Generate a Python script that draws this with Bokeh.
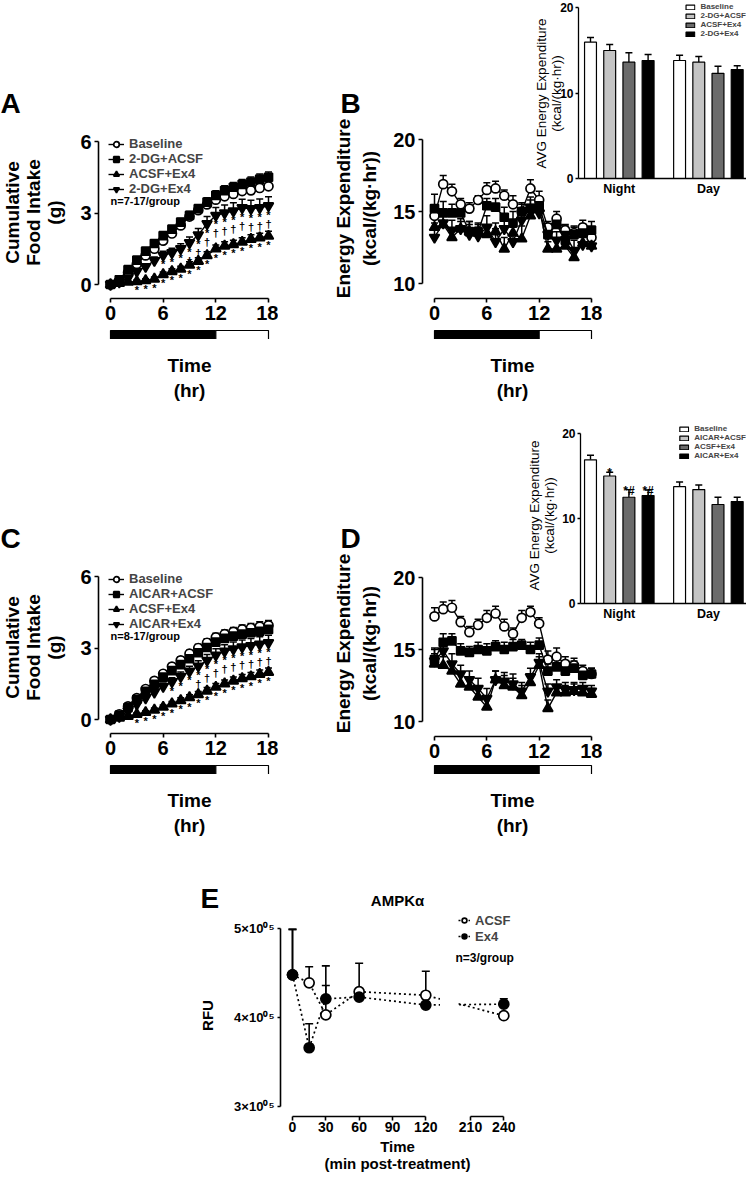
import math
from bokeh.plotting import figure
from bokeh.models import (ColumnDataSource, Whisker, TeeHead, Legend, LegendItem,
                          FixedTicker, Range1d, GridBox)
from bokeh.core.properties import value
from bokeh.embed import file_html
from bokeh.resources import INLINE

FONT = "Liberation Sans"

# ---------------- data ----------------
hours = list(range(19))
hour_ticks = [0, 6, 12, 18]
phase_start = [0, 12]
phase_end = [12, 18]
phase_fill = ["black", "white"]

intake_ticks = [0, 3, 6]
ee_ticks = [10, 15, 20]
avg_ticks = [0, 10, 20]

# Panel A: cumulative food intake (g), 2-DG study
A_labels = ["Baseline", "2-DG+ACSF", "ACSF+Ex4", "2-DG+Ex4"]
A_baseline = [0.00, 0.17, 0.50, 0.86, 1.22, 1.50, 1.84, 2.14, 2.48, 2.85, 3.12, 3.36, 3.56, 3.70, 3.80, 3.92, 3.95, 4.05, 4.12]
A_baseline_sem = [0.02, 0.05, 0.07, 0.09, 0.10, 0.11, 0.12, 0.12, 0.13, 0.14, 0.15, 0.16, 0.17, 0.18, 0.18, 0.19, 0.20, 0.20, 0.21]
A_dg_acsf = [0.00, 0.20, 0.62, 1.02, 1.40, 1.72, 2.05, 2.32, 2.62, 2.90, 3.18, 3.46, 3.74, 3.94, 4.08, 4.20, 4.30, 4.42, 4.50]
A_dg_acsf_sem = [0.02, 0.05, 0.08, 0.10, 0.11, 0.12, 0.13, 0.14, 0.15, 0.16, 0.17, 0.18, 0.19, 0.20, 0.20, 0.21, 0.21, 0.22, 0.22]
A_acsf_ex4 = [0.00, 0.05, 0.10, 0.13, 0.17, 0.23, 0.42, 0.55, 0.65, 0.82, 0.98, 1.22, 1.50, 1.62, 1.68, 1.78, 1.90, 1.96, 2.03]
A_acsf_ex4_sem = [0.01, 0.03, 0.05, 0.06, 0.07, 0.08, 0.10, 0.11, 0.12, 0.13, 0.14, 0.15, 0.16, 0.17, 0.18, 0.18, 0.19, 0.19, 0.20]
A_dg_ex4 = [0.00, 0.10, 0.27, 0.55, 0.75, 1.00, 1.22, 1.33, 1.50, 1.75, 2.08, 2.55, 2.90, 3.00, 3.08, 3.22, 3.18, 3.22, 3.30]
A_dg_ex4_sem = [0.01, 0.05, 0.08, 0.10, 0.12, 0.15, 0.17, 0.19, 0.21, 0.24, 0.27, 0.30, 0.33, 0.34, 0.35, 0.36, 0.36, 0.37, 0.38]
A_star_acsf_ex4 = ["", "", "", "*", "*", "*", "*", "*", "*", "*", "*", "*", "*", "*", "*", "*", "*", "*", "*"]
A_star_dg_ex4 = ["", "", "", "", "", "", "*", "*", "*", "*", "*", "*", "*", "*", "*", "*", "*", "*", "*"]
A_dagger_dg_ex4 = ["", "", "", "", "", "", "", "", "", "†", "†", "†", "†", "†", "†", "†", "†", "†", "†"]

# Panel B: energy expenditure (kcal/(kg·hr)), 2-DG study
B_baseline = [14.7, 16.9, 16.4, 15.5, 15.2, 15.8, 16.5, 16.6, 16.1, 15.5, 15.0, 16.6, 15.8, 13.9, 14.5, 13.7, 13.5, 13.9, 13.2]
B_baseline_sem = [0.5, 0.6, 0.5, 0.4, 0.4, 0.3, 0.5, 0.5, 0.4, 0.6, 0.5, 0.6, 0.6, 0.4, 0.5, 0.4, 0.4, 0.5, 0.5]
B_dg_acsf = [15.2, 14.9, 14.9, 14.9, 13.6, 13.6, 15.4, 15.3, 14.6, 14.2, 15.0, 15.2, 15.4, 13.4, 14.1, 13.0, 13.4, 13.5, 13.7]
B_dg_acsf_sem = [1.0, 0.8, 0.6, 0.6, 0.7, 0.6, 0.5, 0.6, 0.7, 0.8, 0.6, 0.6, 0.6, 0.5, 0.5, 0.6, 0.6, 0.6, 0.6]
B_acsf_ex4 = [13.9, 14.1, 13.2, 13.8, 13.6, 13.5, 13.4, 13.6, 12.4, 13.5, 13.1, 14.7, 15.2, 12.4, 12.4, 12.6, 11.8, 12.8, 12.6]
B_acsf_ex4_sem = [0.8, 0.7, 0.6, 0.5, 0.5, 0.4, 0.5, 0.6, 0.8, 0.7, 0.9, 0.6, 0.6, 0.5, 0.6, 0.5, 0.6, 0.5, 0.3]
B_dg_ex4 = [13.2, 14.2, 13.7, 13.8, 13.4, 13.3, 13.9, 12.9, 13.8, 12.9, 14.4, 15.3, 14.9, 13.4, 13.0, 13.4, 12.3, 12.7, 12.6]
B_dg_ex4_sem = [1.0, 0.8, 0.7, 0.7, 0.9, 0.8, 0.8, 0.9, 0.9, 1.0, 0.8, 0.7, 0.6, 0.6, 0.6, 0.6, 0.7, 0.5, 0.4]

# Inset of B: average energy expenditure
I1_groups = ["Night", "Day"]
I1_night = [15.95, 14.97, 13.6, 13.8]
I1_night_sem = [0.55, 0.70, 1.10, 0.70]
I1_day = [13.8, 13.6, 12.3, 12.75]
I1_day_sem = [0.62, 0.67, 0.82, 0.43]

# Panel C: cumulative food intake (g), AICAR study
C_labels = ["Baseline", "AICAR+ACSF", "ACSF+Ex4", "AICAR+Ex4"]
C_baseline = [0.00, 0.22, 0.55, 0.90, 1.28, 1.62, 1.92, 2.22, 2.48, 2.76, 3.00, 3.22, 3.45, 3.58, 3.68, 3.78, 3.84, 3.90, 3.95]
C_baseline_sem = [0.02, 0.05, 0.07, 0.09, 0.10, 0.11, 0.12, 0.13, 0.14, 0.15, 0.16, 0.17, 0.17, 0.18, 0.18, 0.19, 0.19, 0.20, 0.20]
C_ai_acsf = [0.00, 0.18, 0.50, 0.84, 1.18, 1.48, 1.78, 2.05, 2.30, 2.55, 2.80, 3.02, 3.25, 3.40, 3.50, 3.58, 3.64, 3.70, 3.78]
C_ai_acsf_sem = [0.02, 0.05, 0.07, 0.09, 0.10, 0.11, 0.12, 0.13, 0.14, 0.15, 0.16, 0.17, 0.17, 0.18, 0.18, 0.19, 0.19, 0.20, 0.20]
C_acsf_ex4 = [0.00, 0.06, 0.14, 0.22, 0.30, 0.40, 0.52, 0.66, 0.80, 0.92, 1.05, 1.20, 1.36, 1.50, 1.62, 1.72, 1.80, 1.90, 1.98]
C_acsf_ex4_sem = [0.01, 0.03, 0.05, 0.06, 0.07, 0.08, 0.09, 0.10, 0.11, 0.12, 0.13, 0.14, 0.15, 0.16, 0.16, 0.17, 0.17, 0.18, 0.18]
C_ai_ex4 = [0.00, 0.12, 0.36, 0.64, 0.90, 1.14, 1.38, 1.58, 1.80, 2.02, 2.24, 2.48, 2.70, 2.86, 2.96, 3.04, 3.10, 3.16, 3.22]
C_ai_ex4_sem = [0.01, 0.04, 0.07, 0.09, 0.11, 0.13, 0.15, 0.17, 0.19, 0.21, 0.23, 0.25, 0.27, 0.28, 0.29, 0.30, 0.30, 0.31, 0.31]
C_star_acsf_ex4 = ["", "", "", "*", "*", "*", "*", "*", "*", "*", "*", "*", "*", "*", "*", "*", "*", "*", "*"]
C_star_ai_ex4 = ["", "", "", "", "", "", "", "*", "*", "*", "*", "*", "*", "*", "*", "*", "*", "*", "*"]
C_dagger_ai_ex4 = ["", "", "", "", "", "", "", "", "", "", "†", "†", "†", "†", "†", "†", "†", "†", "†"]

# Panel D: energy expenditure, AICAR study
D_baseline = [17.3, 17.8, 17.9, 16.9, 16.2, 16.7, 17.2, 17.5, 16.6, 16.1, 17.2, 17.6, 16.8, 14.3, 14.5, 14.0, 13.9, 13.5, 13.3]
D_baseline_sem = [0.6, 0.5, 0.5, 0.4, 0.4, 0.4, 0.5, 0.5, 0.5, 0.4, 0.5, 0.4, 0.4, 0.6, 0.6, 0.5, 0.5, 0.4, 0.4]
D_ai_acsf = [14.3, 15.5, 15.6, 14.9, 14.8, 15.0, 14.9, 15.2, 15.0, 15.2, 15.3, 15.0, 15.3, 13.5, 13.8, 13.5, 13.7, 13.2, 13.3]
D_ai_acsf_sem = [0.8, 0.6, 0.5, 0.5, 0.4, 0.5, 0.5, 0.4, 0.5, 0.5, 0.4, 0.5, 0.5, 0.5, 0.5, 0.4, 0.5, 0.5, 0.4]
D_acsf_ex4 = [14.0, 13.9, 13.5, 12.6, 12.4, 11.7, 11.0, 12.9, 12.5, 12.4, 11.8, 12.7, 13.9, 10.9, 12.0, 12.0, 12.1, 12.0, 11.9]
D_acsf_ex4_sem = [0.7, 0.6, 0.6, 0.7, 0.6, 0.7, 0.6, 0.6, 0.7, 0.6, 0.7, 0.6, 0.6, 0.6, 0.5, 0.5, 0.5, 0.4, 0.4]
D_ai_ex4 = [14.2, 14.9, 14.0, 13.3, 12.9, 12.3, 11.6, 12.9, 12.8, 12.6, 12.1, 13.1, 14.1, 12.1, 12.4, 12.2, 12.2, 12.3, 12.1]
D_ai_ex4_sem = [0.8, 0.7, 0.7, 0.6, 0.6, 0.7, 0.7, 0.6, 0.6, 0.7, 0.6, 0.6, 0.6, 0.5, 0.5, 0.5, 0.5, 0.4, 0.4]

# Inset of D
I2_night = [16.9, 15.0, 12.5, 12.7]
I2_night_sem = [0.55, 0.45, 0.90, 0.65]
I2_day = [13.75, 13.4, 11.65, 12.0]
I2_day_sem = [0.55, 0.55, 0.85, 0.50]
I2_night_sig = ["", "*", "*#", "*#"]

# Panel E: AMPKα RFU
E_times = [0, 15, 30, 60, 120, 240]
E_acsf = [4.48e5, 4.39e5, 4.03e5, 4.29e5, 4.25e5, 4.02e5]
E_acsf_sem = [0.51e5, 0.18e5, 0.55e5, 0.32e5, 0.27e5, 0.0]
E_ex4 = [4.48e5, 3.66e5, 4.21e5, 4.23e5, 4.14e5, 4.15e5]
E_ex4_sem = [0.51e5, 0.27e5, 0.15e5, 0.02e5, 0.02e5, 0.06e5]
E_ticks_lo = [0, 30, 60, 90, 120]
E_ticks_hi = [210, 240]
E_y_ticks = [3e5, 4e5, 5e5]
E_y_labels = ["3×10⁰⁵", "4×10⁰⁵", "5×10⁰⁵"]

# ---------------- styles / layout ----------------
W, H = 746, 1188
OFF = 0
MARKERS = [("circle", "white", 9), ("square", "black", 8),
           ("triangle", "black", 10), ("inverted_triangle", "black", 10)]
BAR_FILLS = ["white", "#c4c4c4", "#6b6b6b", "black"]
GROUP_STEP = 4.64
E_SHIFT = E_ticks_hi[0] - E_ticks_lo[-1] - 40  # minutes hidden by the axis break

items = []


def panel(frame, xmap, ymap, borders=(40, 4, 4, 34), **kw):
    fl, ft, fr, fb = frame
    L, T, R, B = fl - OFF, ft - OFF, fr - OFF, fb - OFF
    bl, bt, br, bb = borders
    bl = min(bl, L); bt = min(bt, T); br = min(br, W - R); bb = min(bb, H - B)
    (xv0, xp0), (xv1, xp1) = xmap
    (yv0, yp0), (yv1, yp1) = ymap
    kx = (xv1 - xv0) / (xp1 - xp0)
    ky = (yv1 - yv0) / (yp1 - yp0)
    xr = Range1d(xv0 + (fl - xp0) * kx, xv0 + (fr - xp0) * kx)
    yr = Range1d(yv0 + (fb - yp0) * ky, yv0 + (ft - yp0) * ky)
    w = R - L + bl + br
    h = B - T + bt + bb
    p = figure(width=w, height=h, x_range=xr, y_range=yr, output_backend="svg",
               toolbar_location=None, title=None, min_border_left=bl, min_border_right=br,
               min_border_top=bt, min_border_bottom=bb, **kw)
    p.border_fill_color = None
    p.background_fill_color = None
    p.outline_line_color = None
    p.xgrid.visible = False
    p.ygrid.visible = False
    items.append((p, L - bl, T - bt, w, h))
    return p


def style_axis(ax, size="20px", tick_out=4, lw=1.6, standoff=3, bold=True):
    ax.axis_line_width = lw
    ax.axis_line_color = "black"
    ax.major_tick_line_width = lw
    ax.major_tick_line_color = "black"
    ax.major_tick_in = 0
    ax.major_tick_out = tick_out
    ax.minor_tick_line_color = None
    ax.major_label_text_font = FONT
    ax.major_label_text_font_style = "bold" if bold else "normal"
    ax.major_label_text_font_size = size
    ax.major_label_text_color = "black"
    ax.major_label_standoff = standoff


def time_course(p, x, ys, sems, labels):
    leg_items = []
    for y, s, lab, (mk, fill, size) in zip(ys, sems, labels, MARKERS):
        src = ColumnDataSource(dict(x=x, y=y, top=[a + b for a, b in zip(y, s)]))
        p.add_layout(Whisker(source=src, base="x", lower="y", upper="top", dimension="height",
                             line_color="black", line_width=1.5,
                             upper_head=TeeHead(size=7, line_color="black", line_width=1.5),
                             lower_head=None))
        rl = p.line("x", "y", source=src, line_color="black", line_width=1.4)
        rm = p.scatter("x", "y", source=src, marker=mk, size=size, fill_color=fill,
                       line_color="black", line_width=1.7)
        leg_items.append(LegendItem(label=lab, renderers=[rl, rm]))
    return leg_items


def marks(p, x, y, txt, offset, size="11px"):
    src = ColumnDataSource(dict(x=x, y=y, t=txt))
    p.text("x", "y", text="t", source=src, text_align="center", text_baseline="top",
           y_offset=offset, text_font=value(FONT), text_font_size=size,
           text_font_style="bold", text_color="black")


def food_panel(top, ys, sems, labels, stars):
    p = panel((98, top - 15, 274, top + 157), ((0, 110), (18, 268)),
              ((0, top + 143), (6, top)))
    leg_items = time_course(p, hours, ys, sems, labels)
    leg = Legend(items=leg_items, location="top_left", margin=10, padding=0, spacing=0,
                 glyph_width=16, glyph_height=14, label_height=14, label_standoff=5,
                 label_text_font=FONT, label_text_font_style="bold",
                 label_text_font_size="13px", background_fill_alpha=0,
                 border_line_color=None)
    p.add_layout(leg)
    for (yv, txt, off) in stars:
        marks(p, hours, yv, txt, off)
    p.xaxis.ticker = FixedTicker(ticks=hour_ticks)
    p.xaxis.bounds = (hour_ticks[0], hour_ticks[-1])
    p.yaxis.ticker = FixedTicker(ticks=intake_ticks)
    p.yaxis.bounds = (intake_ticks[0], intake_ticks[-1])
    style_axis(p.xaxis[0])
    style_axis(p.yaxis[0])
    return p


def ee_panel(top, ys, sems, labels):
    p = panel((422, top - 11, 598, top + 159), ((0, 434), (18, 591)),
              ((10, top + 144), (20, top)))
    time_course(p, hours, ys, sems, labels)
    p.xaxis.ticker = FixedTicker(ticks=hour_ticks)
    p.xaxis.bounds = (hour_ticks[0], hour_ticks[-1])
    p.yaxis.ticker = FixedTicker(ticks=ee_ticks)
    p.yaxis.bounds = (ee_ticks[0], ee_ticks[-1])
    style_axis(p.xaxis[0])
    style_axis(p.yaxis[0])
    return p


def light_bar(left_px, right_px, top):
    p = panel((left_px - 2, top - 1, right_px + 3, top + 10),
              ((0, left_px), (18, right_px)), ((0, top + 9), (1, top)),
              borders=(0, 0, 0, 0), x_axis_type=None, y_axis_type=None)
    src = ColumnDataSource(dict(left=phase_start, right=phase_end, fill=phase_fill))
    p.quad(left="left", right="right", bottom=0, top=1, fill_color="fill",
           line_color="black", line_width=1.2, source=src)
    return p


def avg_inset(frame, ymap, night, night_sem, day, day_sem, labels, sig=None):
    p = panel(frame, ((0, 590), (1, 609.2)), ymap, borders=(30, 0, 0, 20))
    leg_items = []
    for s, (lab, fill) in enumerate(zip(labels, BAR_FILLS)):
        xs = [g * GROUP_STEP + s for g in range(2)]
        tops = [night[s], day[s]]
        ups = [night[s] + night_sem[s], day[s] + day_sem[s]]
        src = ColumnDataSource(dict(x=xs, top=tops, up=ups))
        p.add_layout(Whisker(source=src, base="x", lower="top", upper="up", dimension="height",
                             line_color="black", line_width=1.4,
                             upper_head=TeeHead(size=7, line_color="black", line_width=1.4),
                             lower_head=None))
        r = p.vbar(x="x", top="top", bottom=0, width=0.62, source=src, fill_color=fill,
                   line_color="black", line_width=1.2)
        leg_items.append(LegendItem(label=lab, renderers=[r]))
    if sig is not None:
        src = ColumnDataSource(dict(x=list(range(len(night))),
                                    y=[a + b for a, b in zip(night, night_sem)], t=sig))
        p.text("x", "y", text="t", source=src, text_align="center",
               text_baseline="alphabetic", y_offset=1, text_font=value(FONT),
               text_font_size="12px", text_font_style="bold", text_color="black")
    leg = Legend(items=leg_items, location="top_right", margin=0, padding=0, spacing=0,
                 glyph_width=11, glyph_height=6, label_height=9, label_standoff=5,
                 label_text_font=FONT, label_text_font_style="bold",
                 label_text_font_size="8px", background_fill_alpha=0,
                 border_line_color=None)
    p.add_layout(leg)
    centers = [g * GROUP_STEP + 1.5 for g in range(2)]
    p.xaxis.ticker = FixedTicker(ticks=centers)
    p.xaxis.major_label_overrides = {c: g for c, g in zip(centers, I1_groups)}
    p.yaxis.ticker = FixedTicker(ticks=avg_ticks)
    p.yaxis.bounds = (avg_ticks[0], avg_ticks[-1])
    style_axis(p.xaxis[0], size="12.5px", tick_out=0, lw=1.3, standoff=3)
    style_axis(p.yaxis[0], size="12px", tick_out=3, lw=1.3, standoff=2)
    return p


# ---------------- background text layer ----------------
bg = figure(width=W, height=H, x_range=Range1d(0, W), y_range=Range1d(0, H),
            x_axis_type=None, y_axis_type=None, output_backend="svg",
            toolbar_location=None, title=None, min_border=0)
bg.outline_line_color = None
bg.border_fill_color = None
bg.background_fill_color = None
items.append((bg, 0, 0, W, H))


def label(x_ref, y_ref, txt, size, bold=True, angle=0.0, align="center"):
    bg.text(x=[max(x_ref - OFF, 0)], y=[H - (y_ref - OFF)], text=[txt], angle=angle,
            text_align=align, text_baseline="middle", text_font=value(FONT),
            text_font_size=size, text_font_style="bold" if bold else "normal",
            text_color="black")


# ---------------- panels ----------------
A_stars = [(A_acsf_ex4, A_star_acsf_ex4, 3),
           (A_dg_ex4, A_star_dg_ex4, 3),
           (A_dg_ex4, A_dagger_dg_ex4, 12)]
food_panel(141, [A_baseline, A_dg_acsf, A_acsf_ex4, A_dg_ex4],
           [A_baseline_sem, A_dg_acsf_sem, A_acsf_ex4_sem, A_dg_ex4_sem],
           A_labels, A_stars)
light_bar(110, 268, 329)

ee_panel(139, [B_baseline, B_dg_acsf, B_acsf_ex4, B_dg_ex4],
         [B_baseline_sem, B_dg_acsf_sem, B_acsf_ex4_sem, B_dg_ex4_sem], A_labels)
light_bar(434, 591, 329)

avg_inset((578, 2, 746, 178), ((0, 178), (20, 7)), I1_night, I1_night_sem,
          I1_day, I1_day_sem, A_labels)

C_stars = [(C_acsf_ex4, C_star_acsf_ex4, 3),
           (C_ai_ex4, C_star_ai_ex4, 3),
           (C_ai_ex4, C_dagger_ai_ex4, 12)]
food_panel(576, [C_baseline, C_ai_acsf, C_acsf_ex4, C_ai_ex4],
           [C_baseline_sem, C_ai_acsf_sem, C_acsf_ex4_sem, C_ai_ex4_sem],
           C_labels, C_stars)
light_bar(110, 268, 764)

ee_panel(577, [D_baseline, D_ai_acsf, D_acsf_ex4, D_ai_ex4],
         [D_baseline_sem, D_ai_acsf_sem, D_acsf_ex4_sem, D_ai_ex4_sem], C_labels)
light_bar(434, 591, 764)

avg_inset((580, 424, 746, 603), ((0, 603), (20, 433)), I2_night, I2_night_sem,
          I2_day, I2_day_sem, C_labels, sig=I2_night_sig)

# Panel E with broken time axis
E_x = [t if t <= E_ticks_lo[-1] else t - E_SHIFT for t in E_times]
E_hi_pos = [t - E_SHIFT for t in E_ticks_hi]
e_ymap = ((3e5, 1106), (5e5, 928))
pE1 = panel((280, 912, 440, 1116), ((0, 292), (120, 425.3)), e_ymap, borders=(60, 4, 0, 24))
pE2 = panel((458, 912, 522, 1116), ((E_hi_pos[0], 470), (E_hi_pos[1], 503.3)), e_ymap,
            borders=(0, 4, 4, 24), y_axis_type=None)
e_leg = []
for p in (pE1, pE2):
    for (ys, sem, lab, fill) in [(E_acsf, E_acsf_sem, "ACSF", "white"),
                                 (E_ex4, E_ex4_sem, "Ex4", "black")]:
        src = ColumnDataSource(dict(x=E_x, y=ys, top=[a + b for a, b in zip(ys, sem)]))
        p.add_layout(Whisker(source=src, base="x", lower="y", upper="top", dimension="height",
                             line_color="black", line_width=1.6,
                             upper_head=TeeHead(size=8, line_color="black", line_width=1.6),
                             lower_head=None))
        rl = p.line("x", "y", source=src, line_color="black", line_width=1.7, line_dash="2 3")
        rm = p.scatter("x", "y", source=src, marker="circle", size=10, fill_color=fill,
                       line_color="black", line_width=1.7)
        if p is pE2:
            e_leg.append(LegendItem(label=lab, renderers=[rl, rm]))
pE2.add_layout(Legend(items=e_leg, location="top_left", margin=0, padding=0, spacing=0,
                      glyph_width=12, glyph_height=16, label_height=16, label_standoff=5,
                      label_text_font=FONT, label_text_font_style="bold",
                      label_text_font_size="13px", background_fill_alpha=0,
                      border_line_color=None))
pE1.xaxis.ticker = FixedTicker(ticks=E_ticks_lo)
pE1.xaxis.bounds = (E_ticks_lo[0], E_ticks_lo[-1])
pE1.yaxis.ticker = FixedTicker(ticks=E_y_ticks)
pE1.yaxis.bounds = (E_y_ticks[0], E_y_ticks[-1])
pE1.yaxis.major_label_overrides = {t: s for t, s in zip(E_y_ticks, E_y_labels)}
pE2.xaxis.ticker = FixedTicker(ticks=E_hi_pos)
pE2.xaxis.bounds = (E_hi_pos[0], E_hi_pos[-1])
pE2.xaxis.major_label_overrides = {p_: str(t) for p_, t in zip(E_hi_pos, E_ticks_hi)}
style_axis(pE1.xaxis[0], size="14px", tick_out=4, lw=1.6, standoff=1)
style_axis(pE2.xaxis[0], size="14px", tick_out=4, lw=1.6, standoff=1)
style_axis(pE1.yaxis[0], size="13px", tick_out=3, lw=1.6, standoff=3)

# ---------------- text: panel letters and axis titles ----------------
for (x, y, t) in [(0, 103, "A"), (340, 103, "B"), (0, 538, "C"), (340, 538, "D"), (200, 898, "E")]:
    label(x, y, t, "28px", align="left")

for cy in (212, 647):
    label(12, cy, "Cumulative", "19px", angle=math.pi / 2)
    label(33, cy, "Food Intake", "19px", angle=math.pi / 2)
    label(54, cy, "(g)", "19px", angle=math.pi / 2)
for cy in (208, 643):
    label(343, cy, "Energy Expenditure", "19px", angle=math.pi / 2)
    label(369, cy, "(kcal/(kg·hr))", "19px", angle=math.pi / 2)
for cx, cy in ((541, 93), (534, 515)):
    label(cx, cy, "AVG Energy Expenditure", "13.5px", bold=False, angle=math.pi / 2)
    label(cx + 15, cy, "(kcal/(kg·hr))", "13.5px", bold=False, angle=math.pi / 2)
for cx in (189, 512):
    for cy in (365, 800):
        label(cx, cy, "Time", "19px")
        label(cx, cy + 25, "(hr)", "19px")
label(110, 200, "n=7-17/group", "11px", align="left")
label(110, 635, "n=8-17/group", "11px", align="left")
label(455, 957, "n=3/group", "12px", align="left")
label(397, 900, "AMPKα", "15px")
label(207, 1015, "RFU", "15px", angle=math.pi / 2)
label(397, 1146, "Time", "15px")
label(397, 1163, "(min post-treatment)", "15px")

# ---------------- assemble with overlapping grid cells ----------------
xs = sorted({0, W} | {l for _, l, t, w, h in items} | {l + w for _, l, t, w, h in items})
ys = sorted({0, H} | {t for _, l, t, w, h in items} | {t + h for _, l, t, w, h in items})
cols = [f"{b - a}px" for a, b in zip(xs, xs[1:])]
rows = [f"{b - a}px" for a, b in zip(ys, ys[1:])]
children = []
ordered = [it for it in items if it[0] is bg] + [it for it in items if it[0] is not bg]
for p, l, t, w, h in ordered:
    c0, c1 = xs.index(l), xs.index(l + w)
    r0, r1 = ys.index(t), ys.index(t + h)
    children.append((p, r0, c0, r1 - r0, c1 - c0))

grid = GridBox(children=children, rows=rows, cols=cols, spacing=0)

open("out.html", "w").write(file_html(grid, INLINE))
